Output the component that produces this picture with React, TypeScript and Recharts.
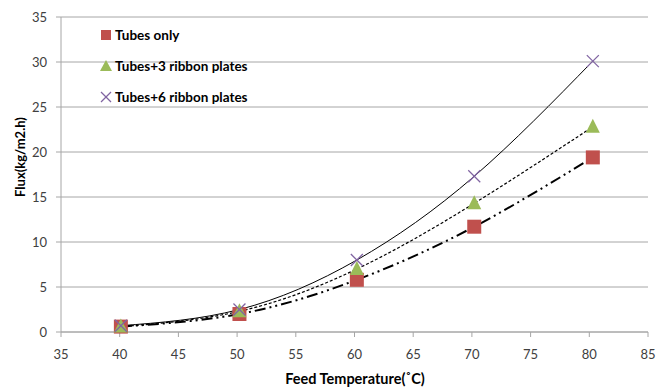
import React from "react";
import { ComposedChart, Scatter, Line, XAxis, YAxis, CartesianGrid, Label } from "recharts";

// feed temperature (°C) and flux (kg/m2.h) for each configuration
const feedTemps = [40.1, 50.2, 60.2, 70.2, 80.3];
const tubesOnly = [0.6, 2.0, 5.8, 11.7, 19.4];
const tubes3Plates = [0.6, 2.3, 7.0, 14.3, 22.8];
const tubes6Plates = [0.7, 2.5, 8.0, 17.3, 30.1];

const xTicks = [35, 40, 45, 50, 55, 60, 65, 70, 75, 80, 85];
const yTicks = [0, 5, 10, 15, 20, 25, 30, 35];

const toRows = (vals: number[]) => feedTemps.map((x, i) => ({ x, y: vals[i] }));
const rowsOnly = toRows(tubesOnly);
const rows3 = toRows(tubes3Plates);
const rows6 = toRows(tubes6Plates);

const RED = "#C0504D";
const GREEN = "#9BBB59";
const PURPLE = "#8064A2";
const FONT = "Lato, 'Open Sans', sans-serif";

const SquareMark = (p: any) => (
  <rect x={p.cx - 7} y={p.cy - 7} width={14} height={14} fill={RED} />
);
const TriangleMark = (p: any) => (
  <polygon points={`${p.cx},${p.cy - 8} ${p.cx + 7},${p.cy + 6} ${p.cx - 7},${p.cy + 6}`} fill={GREEN} />
);
const CrossMark = (p: any) => (
  <g stroke={PURPLE} strokeWidth={1.3}>
    <line x1={p.cx - 6} y1={p.cy - 6} x2={p.cx + 6} y2={p.cy + 6} />
    <line x1={p.cx - 6} y1={p.cy + 6} x2={p.cx + 6} y2={p.cy - 6} />
  </g>
);

const legendItems = [
  { name: "Tubes only", icon: <rect x={2} y={2} width={10} height={10} fill={RED} /> },
  { name: "Tubes+3 ribbon plates", icon: <polygon points="7,1 13,12 1,12" fill={GREEN} /> },
  {
    name: "Tubes+6 ribbon plates",
    icon: (
      <g stroke={PURPLE} strokeWidth={1.2}>
        <line x1={2} y1={2} x2={12} y2={12} />
        <line x1={2} y1={12} x2={12} y2={2} />
      </g>
    ),
  },
];

// legend sits inside the plot area, top-left
const LegendBox = () => (
  <div
    style={{
      position: "absolute",
      left: 99,
      top: 26,
      fontFamily: FONT,
      fontWeight: 700,
      fontSize: 13.5,
      color: "#000",
      pointerEvents: "none",
    }}
  >
    {legendItems.map((it) => (
      <div key={it.name} style={{ display: "flex", alignItems: "center", height: 18, marginBottom: 13 }}>
        <svg width={14} height={14} style={{ marginRight: 2 }}>
          {it.icon}
        </svg>
        <span>{it.name}</span>
      </div>
    ))}
  </div>
);

export default function App() {
  return (
    <div style={{ position: "absolute", left: 0, top: 0, width: 669, height: 387, background: "#fff" }}>
      <ComposedChart width={669} height={387} margin={{ top: 17, right: 21, left: 21, bottom: 0 }}>
        <CartesianGrid horizontal vertical={false} stroke="#A6A6A6" />
        <XAxis
          type="number"
          dataKey="x"
          domain={[35, 85]}
          ticks={xTicks}
          height={55}
          tickSize={5}
          tickMargin={13}
          stroke="#A6A6A6"
          tick={{ fill: "#404040", fontSize: 13, fontFamily: FONT }}
          allowDuplicatedCategory={false}
        >
          <Label
            content={() => (
              <text x={355} y={384} textAnchor="middle" fontFamily={FONT} fontWeight={700} fontSize={14.5} fill="#000">
                Feed Temperature(˚C)
              </text>
            )}
          />
        </XAxis>
        <YAxis
          type="number"
          domain={[0, 35]}
          ticks={yTicks}
          width={40}
          tickSize={5}
          tickMargin={9}
          stroke="#A6A6A6"
          tick={{ fill: "#404040", fontSize: 13, fontFamily: FONT }}
        >
          <Label
            content={() => (
              <text
                x={0}
                y={0}
                transform="translate(25,157) rotate(-90)"
                textAnchor="middle"
                fontFamily={FONT}
                fontWeight={700}
                fontSize={13}
                fill="#000"
              >
                Flux(kg/m2.h)
              </text>
            )}
          />
        </YAxis>
        <Scatter name="Tubes only" data={rowsOnly} dataKey="y" shape={<SquareMark />} isAnimationActive={false} />
        <Scatter name="Tubes+3 ribbon plates" data={rows3} dataKey="y" shape={<TriangleMark />} isAnimationActive={false} />
        <Scatter name="Tubes+6 ribbon plates" data={rows6} dataKey="y" shape={<CrossMark />} isAnimationActive={false} />
        <Line
          data={rowsOnly}
          dataKey="y"
          type="natural"
          stroke="#000"
          strokeWidth={2}
          strokeDasharray="11 4 2 4 2 4"
          dot={false}
          activeDot={false}
          isAnimationActive={false}
        />
        <Line
          data={rows3}
          dataKey="y"
          type="natural"
          stroke="#000"
          strokeWidth={1.2}
          strokeDasharray="3 2"
          dot={false}
          activeDot={false}
          isAnimationActive={false}
        />
        <Line
          data={rows6}
          dataKey="y"
          type="natural"
          stroke="#000"
          strokeWidth={1}
          dot={false}
          activeDot={false}
          isAnimationActive={false}
        />
      </ComposedChart>
      <LegendBox />
    </div>
  );
}
